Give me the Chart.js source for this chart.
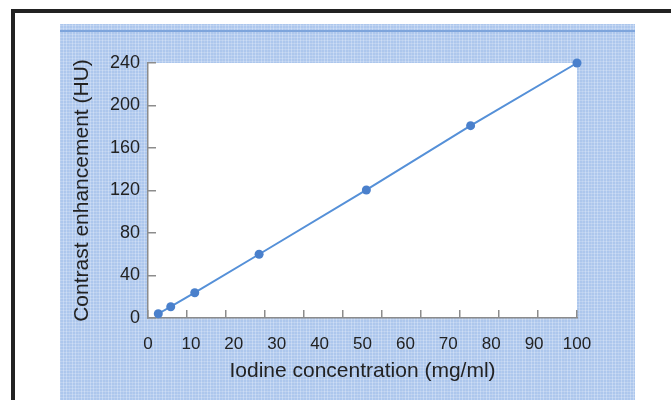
<!DOCTYPE html>
<html>
<head>
<meta charset="utf-8">
<script src="https://cdn.jsdelivr.net/npm/chart.js@4/dist/chart.umd.min.js"></script>
<style>
  html, body { margin: 0; padding: 0; background: #fff; }
  #page { position: relative; width: 671px; height: 400px; overflow: hidden; background: #fff; }
  /* black frame, open on the right and bottom */
  #frame { position: absolute; left: 11px; top: 9px; width: 700px; height: 420px;
           border-left: 4px solid #222; border-top: 4px solid #222; }
  /* blue graph-paper panel */
  #panel { position: absolute; left: 60px; top: 24px; width: 575px; height: 380px;
           background-color: #adc7ed;
           background-image:
             repeating-linear-gradient(90deg, rgba(255,255,255,0.25) 0 1px, transparent 1px 3px),
             repeating-linear-gradient(0deg, rgba(255,255,255,0.2) 0 1px, transparent 1px 3px),
             repeating-linear-gradient(90deg, rgba(120,160,220,0.25) 0 1px, transparent 1px 9px); }
  #rule { position: absolute; left: 60px; top: 30px; width: 575px; height: 2px; background: #7ea5dc; }
  #chart { position: absolute; left: 0; top: 0; }
</style>
</head>
<body>
<div id="page">
  <div id="frame"></div>
  <div id="panel"></div>
  <div id="rule"></div>
  <canvas id="chart" width="671" height="400"></canvas>
</div>
<script>
// ── Data ────────────────────────────────────────────────────

const iodineConc = [2.4, 5.3, 10.9, 25.9, 50.9, 75.2, 100];   // mg/ml
const enhancement = [4, 10.6, 23.8, 60, 120.5, 181, 240];     // HU

const xTickLabels = [0, 10, 20, 30, 40, 50, 60, 70, 80, 90, 100];
const yTickLabels = [0, 40, 80, 120, 160, 200, 240];
const xTickDivisions = 11;   // tick marks on the x axis (not aligned with labels)

// ── Style ───────────────────────────────────────────────────

const FONT = 'Liberation Sans, Arial, Helvetica, sans-serif';
const TEXT = '#222';
const AXIS = '#8c8c8c';
const BLUE = '#5590d8';
const DOT = '#4a80cc';

// white plotting area
const plotBackground = {
    id: 'plotBackground',
    beforeDraw(chart) {
        const { ctx, chartArea: a } = chart;
        ctx.save();
        ctx.fillStyle = '#fff';
        ctx.fillRect(a.left, a.top, a.right - a.left, a.bottom - a.top);
        ctx.restore();
    }
};

const points = iodineConc.map((x, i) => ({ x, y: enhancement[i] }));

new Chart(document.getElementById('chart'), {
    type: 'scatter',
    data: {
        datasets: [{
            data: points,
            showLine: true,
            borderColor: BLUE,
            borderWidth: 2,
            pointRadius: 4.5,
            pointBackgroundColor: DOT,
            pointBorderWidth: 0,
            clip: false,
        }]
    },
    options: {
        responsive: false,
        animation: false,
        events: [],
        layout: { padding: { left: 66, right: 94, top: 63, bottom: 12 } },
        plugins: { legend: { display: false }, tooltip: { enabled: false } },
        scales: {
            x: {
                type: 'linear',
                min: 0, max: 100,
                afterBuildTicks: s => { s.ticks = xTickLabels.map(v => ({ value: v })); },
                afterFit: s => { s.height = 70; },
                grid: { display: false },
                border: { display: true, color: AXIS, width: 1.5 },
                ticks: { color: TEXT, font: { family: FONT, size: 17 }, padding: 8, maxRotation: 0, autoSkip: false },
                title: { display: true, text: 'Iodine concentration (mg/ml)', color: TEXT,
                         font: { family: FONT, size: 21 }, padding: { top: 4, bottom: 4 } }
            },
            xMarks: {
                type: 'linear',
                position: 'bottom',
                weight: -10,
                min: 0, max: xTickDivisions,
                ticks: { display: false, stepSize: 1 },
                afterFit: s => { s.height = 0; },
                grid: { drawOnChartArea: false, drawTicks: true, tickLength: -8, color: AXIS, lineWidth: 1.5 },
                border: { display: false }
            },
            y: {
                type: 'linear',
                min: 0, max: 240,
                afterBuildTicks: s => { s.ticks = yTickLabels.map(v => ({ value: v })); },
                afterFit: s => { s.width = 82; },
                grid: { drawOnChartArea: false, drawTicks: true, tickLength: -8, color: AXIS, lineWidth: 1.5 },
                border: { display: true, color: AXIS, width: 1.5 },
                ticks: { color: TEXT, font: { family: FONT, size: 18 }, padding: 16, autoSkip: false },
                title: { display: true, text: 'Contrast enhancement (HU)', color: TEXT,
                         font: { family: FONT, size: 21 }, padding: { top: 4, bottom: 4 } }
            }
        }
    },
    plugins: [plotBackground]
});
</script>
</body>
</html>
